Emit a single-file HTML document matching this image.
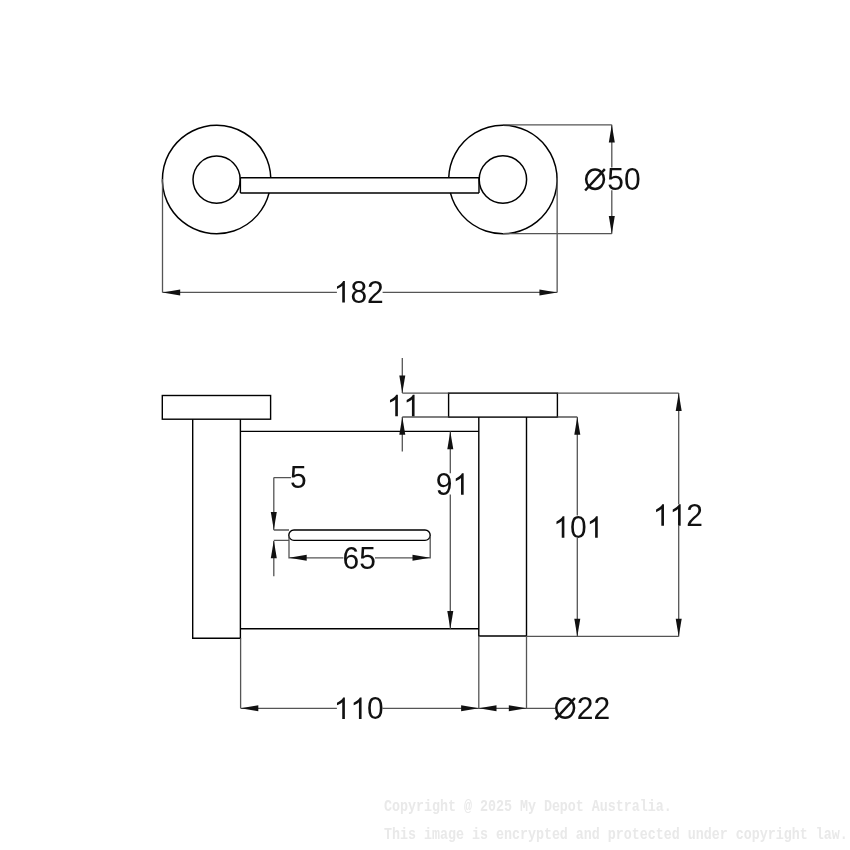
<!DOCTYPE html>
<html><head><meta charset="utf-8">
<style>
html,body{margin:0;padding:0;background:#fff;width:850px;height:850px;overflow:hidden}
svg{display:block;will-change:transform}
.o{fill:none;stroke:#000000;stroke-width:1.4}
.d{fill:none;stroke:#555555;stroke-width:1.3}
.a{fill:#111;stroke:none}
.t{font-family:"Liberation Sans",sans-serif;font-size:30.0px;fill:#111}
.g{fill:#111}
.cc{stroke-width:1.5}
.c{font-family:"Liberation Mono",monospace;font-weight:bold;font-size:13.33px;fill:#e9e9e9}
</style></head><body>
<svg width="850" height="850" viewBox="0 0 850 850">
<g class="o">
<path class="cc" d="M 270.77 177.80 A 54.2 54.2 0 1 0 269.11 192.93"/>
<circle class="cc" cx="216.6" cy="179.6" r="23.6"/>
<path class="cc" d="M 448.73 177.80 A 54.2 54.2 0 1 1 450.40 192.93"/>
<circle class="cc" cx="502.9" cy="179.54999999999998" r="23.700000000000003"/>
<path d="M 240.4 177.8 H 479.0 M 240.4 192.93 H 479.0 M 240.4 177.8 V 192.93 M 479.0 177.8 V 192.93"/>
<rect x="162.3" y="395.5" width="108.3" height="23.7"/>
<rect x="448.6" y="393.1" width="108.8" height="24.0"/>
<path d="M 192.7 419.2 V 638.3 H 240.4 V 419.2"/>
<path d="M 478.8 417.1 V 636 H 526.5 V 417.1"/>
<path d="M 240.4 431.4 H 478.8 M 240.4 628.8 H 478.8"/>
<path d="M 294 530 H 425 A 5.2 5.2 0 0 1 425 540.4 H 294 A 5.2 5.2 0 0 1 294 530 Z"/>
</g>
<g class="d">
<path d="M 162.5 179 V 292.45 M 557.15 178 V 292.45 M 162.5 292.45 H 336.9 M 382.6 292.45 H 557.15"/>
<path d="M 503 124.8 H 611.8 M 503 233.7 H 611.8 M 611.8 124.8 V 167.6 M 611.8 190.3 V 233.7"/>
<path d="M 402.3 358 V 393.1 M 402.3 417.0 V 451.6 M 402.3 393.1 H 448.6 M 402.3 417.0 H 448.6"/>
<path d="M 557.4 393.1 H 678.7 M 557.4 417.0 H 577.3 M 526.5 636.4 H 678.7"/>
<path d="M 577.3 417.0 V 515.5 M 577.3 537.9 V 636.4 M 678.7 393.1 V 504.2 M 678.7 525.9 V 636.4"/>
<path d="M 450.3 431.5 V 473.2 M 450.3 494.6 V 628.8"/>
<path d="M 273.8 477.6 H 291 M 273.8 477.6 V 530 M 273.8 530 H 289 M 273.8 540.4 H 289 M 273.8 541 V 576.2"/>
<path d="M 289 536 V 558.4 M 430.2 536 V 558.4 M 289 557.8 H 343.4 M 375 557.8 H 430.2"/>
<path d="M 240.6 638.3 V 708.3 M 478.8 636 V 708.3 M 526.5 636 V 708.3 M 240.6 708.3 H 336.9 M 382.6 708.3 H 555.1"/>
</g>
<g class="a">
<path d="M 162.50 292.45 L 180.20 289.45 L 180.20 295.45 Z"/>
<path d="M 557.15 292.45 L 539.45 289.45 L 539.45 295.45 Z"/>
<path d="M 611.80 124.80 L 608.80 142.50 L 614.80 142.50 Z"/>
<path d="M 611.80 233.70 L 608.80 216.00 L 614.80 216.00 Z"/>
<path d="M 402.30 393.10 L 399.30 375.40 L 405.30 375.40 Z"/>
<path d="M 402.30 417.10 L 399.30 434.80 L 405.30 434.80 Z"/>
<path d="M 577.30 417.10 L 574.30 434.80 L 580.30 434.80 Z"/>
<path d="M 577.30 636.40 L 574.30 618.70 L 580.30 618.70 Z"/>
<path d="M 678.70 393.20 L 675.70 410.90 L 681.70 410.90 Z"/>
<path d="M 678.70 636.40 L 675.70 618.70 L 681.70 618.70 Z"/>
<path d="M 450.30 431.50 L 447.30 449.20 L 453.30 449.20 Z"/>
<path d="M 450.30 628.80 L 447.30 611.10 L 453.30 611.10 Z"/>
<path d="M 273.80 529.80 L 270.80 512.10 L 276.80 512.10 Z"/>
<path d="M 273.80 540.60 L 270.80 558.30 L 276.80 558.30 Z"/>
<path d="M 289.00 557.80 L 306.70 554.80 L 306.70 560.80 Z"/>
<path d="M 430.20 557.80 L 412.50 554.80 L 412.50 560.80 Z"/>
<path d="M 240.60 708.30 L 258.30 705.30 L 258.30 711.30 Z"/>
<path d="M 478.80 708.30 L 461.10 705.30 L 461.10 711.30 Z"/>
<path d="M 478.80 708.30 L 496.50 705.30 L 496.50 711.30 Z"/>
<path d="M 526.50 708.30 L 508.80 705.30 L 508.80 711.30 Z"/>
</g>
<g>
<path class="g" transform="translate(333.70,302.60) scale(0.014648,-0.014648)" d="M 763 0 L 583 0 L 583 1147 C 540 1106 483 1065 413 1024 C 343 983 280 952 224 931 L 224 1105 C 325 1152 413 1210 488 1277 C 563 1344 616 1409 647 1472 L 763 1472 Z"/>
<text class="t" transform="translate(350.38,302.60) scale(1,1.04)">8</text>
<text class="t" transform="translate(367.07,302.60) scale(1,1.04)">2</text>
<ellipse cx="595.05" cy="179.20" rx="8.9" ry="9.75" fill="none" stroke="#111" stroke-width="2.5"/>
<path d="M 585.15 190.50 L 604.85 169.10" stroke="#111" stroke-width="2.4"/>
<text class="t" transform="translate(607.33,190.00) scale(1,1.04)">5</text>
<text class="t" transform="translate(624.01,190.00) scale(1,1.04)">0</text>
<path class="g" transform="translate(386.70,416.20) scale(0.014648,-0.014648)" d="M 763 0 L 583 0 L 583 1147 C 540 1106 483 1065 413 1024 C 343 983 280 952 224 931 L 224 1105 C 325 1152 413 1210 488 1277 C 563 1344 616 1409 647 1472 L 763 1472 Z"/>
<path class="g" transform="translate(403.38,416.20) scale(0.014648,-0.014648)" d="M 763 0 L 583 0 L 583 1147 C 540 1106 483 1065 413 1024 C 343 983 280 952 224 931 L 224 1105 C 325 1152 413 1210 488 1277 C 563 1344 616 1409 647 1472 L 763 1472 Z"/>
<path class="g" transform="translate(553.20,537.80) scale(0.014648,-0.014648)" d="M 763 0 L 583 0 L 583 1147 C 540 1106 483 1065 413 1024 C 343 983 280 952 224 931 L 224 1105 C 325 1152 413 1210 488 1277 C 563 1344 616 1409 647 1472 L 763 1472 Z"/>
<text class="t" transform="translate(569.88,537.80) scale(1,1.04)">0</text>
<path class="g" transform="translate(586.57,537.80) scale(0.014648,-0.014648)" d="M 763 0 L 583 0 L 583 1147 C 540 1106 483 1065 413 1024 C 343 983 280 952 224 931 L 224 1105 C 325 1152 413 1210 488 1277 C 563 1344 616 1409 647 1472 L 763 1472 Z"/>
<path class="g" transform="translate(652.80,525.80) scale(0.014648,-0.014648)" d="M 763 0 L 583 0 L 583 1147 C 540 1106 483 1065 413 1024 C 343 983 280 952 224 931 L 224 1105 C 325 1152 413 1210 488 1277 C 563 1344 616 1409 647 1472 L 763 1472 Z"/>
<path class="g" transform="translate(669.48,525.80) scale(0.014648,-0.014648)" d="M 763 0 L 583 0 L 583 1147 C 540 1106 483 1065 413 1024 C 343 983 280 952 224 931 L 224 1105 C 325 1152 413 1210 488 1277 C 563 1344 616 1409 647 1472 L 763 1472 Z"/>
<text class="t" transform="translate(686.17,525.80) scale(1,1.04)">2</text>
<text class="t" transform="translate(435.80,494.80) scale(1,1.04)">9</text>
<path class="g" transform="translate(452.48,494.80) scale(0.014648,-0.014648)" d="M 763 0 L 583 0 L 583 1147 C 540 1106 483 1065 413 1024 C 343 983 280 952 224 931 L 224 1105 C 325 1152 413 1210 488 1277 C 563 1344 616 1409 647 1472 L 763 1472 Z"/>
<text class="t" transform="translate(290.00,488.10) scale(1,1.04)">5</text>
<text class="t" transform="translate(342.60,568.80) scale(1,1.04)">6</text>
<text class="t" transform="translate(359.28,568.80) scale(1,1.04)">5</text>
<path class="g" transform="translate(333.70,719.00) scale(0.014648,-0.014648)" d="M 763 0 L 583 0 L 583 1147 C 540 1106 483 1065 413 1024 C 343 983 280 952 224 931 L 224 1105 C 325 1152 413 1210 488 1277 C 563 1344 616 1409 647 1472 L 763 1472 Z"/>
<path class="g" transform="translate(350.38,719.00) scale(0.014648,-0.014648)" d="M 763 0 L 583 0 L 583 1147 C 540 1106 483 1065 413 1024 C 343 983 280 952 224 931 L 224 1105 C 325 1152 413 1210 488 1277 C 563 1344 616 1409 647 1472 L 763 1472 Z"/>
<text class="t" transform="translate(367.07,719.00) scale(1,1.04)">0</text>
<ellipse cx="565.15" cy="708.10" rx="8.9" ry="9.75" fill="none" stroke="#111" stroke-width="2.5"/>
<path d="M 555.25 719.40 L 574.95 698.00" stroke="#111" stroke-width="2.4"/>
<text class="t" transform="translate(576.70,718.60) scale(1,1.04)">2</text>
<text class="t" transform="translate(593.38,718.60) scale(1,1.04)">2</text>
</g>
<text class="c" transform="translate(384,811) scale(1,1.22)">Copyright @ 2025 My Depot Australia.</text>
<text class="c" transform="translate(384,838.8) scale(1,1.22)">This image is encrypted and protected under copyright law.</text>
</svg>
</body></html>
